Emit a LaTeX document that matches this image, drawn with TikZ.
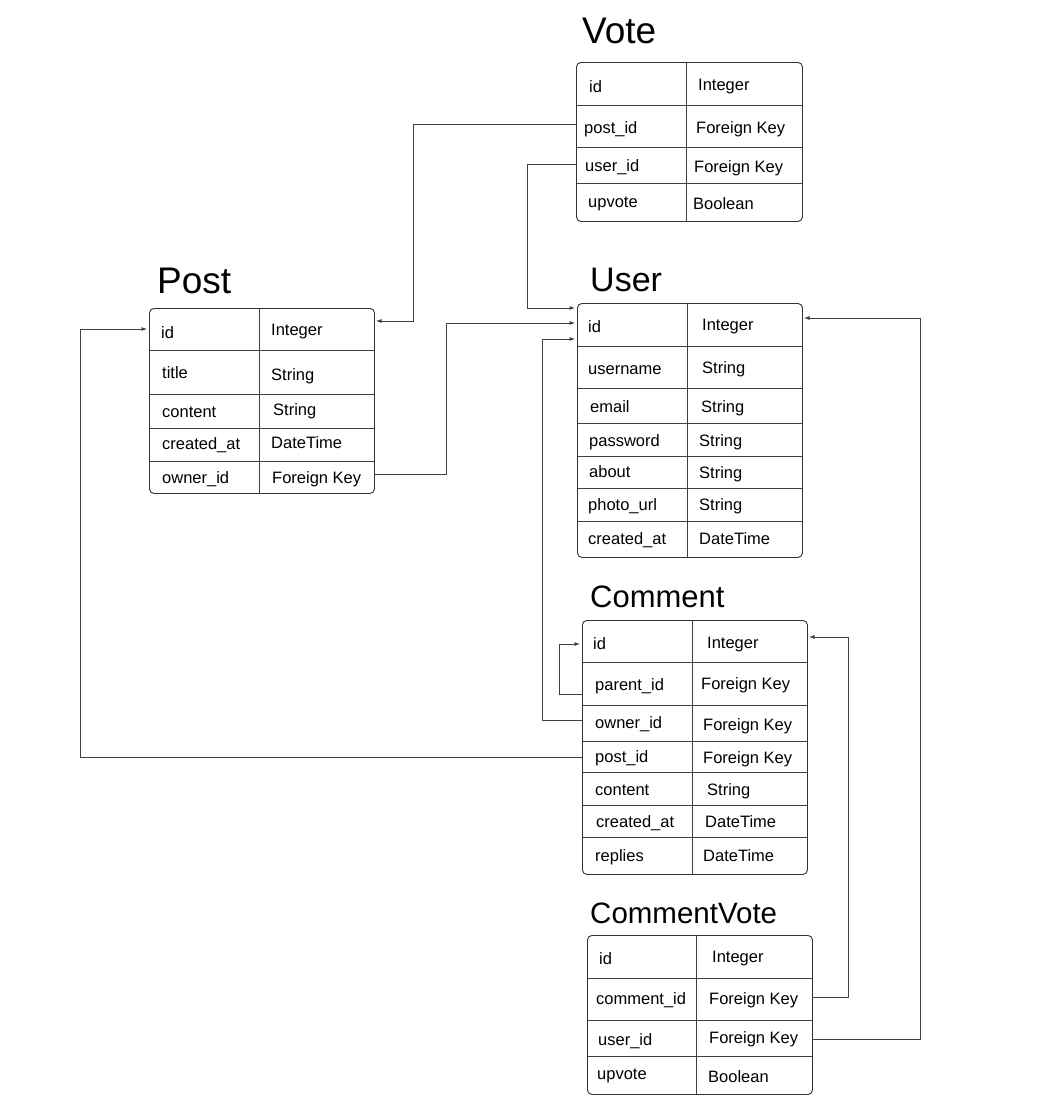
\documentclass[tikz,border=0pt]{standalone}
\usepackage{fontspec}
\setmainfont{Liberation Sans}
\usetikzlibrary{arrows.meta}
\begin{document}
\begin{tikzpicture}[x=1pt,y=-1pt,
  tbl/.style={draw=black!80, line width=0.9pt, rounded corners=4.5pt, inner sep=0pt, anchor=north west},
  sep/.style={draw=black!75, line width=0.8pt},
  cell/.style={anchor=base west, inner sep=0pt, font=\fontsize{16.5}{18}\selectfont},
  ttl/.style={anchor=base west, inner sep=0pt},
  conn/.style={draw=black!75, line width=0.8pt, -{Latex[length=5.5pt,width=4pt]}},
]
\useasboundingbox (0,0) rectangle (1055,1114);

% ---------------- Vote ----------------
\node[ttl, font=\fontsize{37}{40}\selectfont] (votet) at (582,43) {Vote};
\draw[sep] (576,105) -- (802,105) (576,147) -- (802,147) (576,183) -- (802,183);
\draw[sep] (686,62) -- (686,221);
\node[tbl, minimum width=226pt, minimum height=159pt] (vote) at (576,62) {};
\node[cell] (v1a) at (589,92) {id};        \node[cell] (v1b) at (698,90) {Integer};
\node[cell] (v2a) at (584,133) {post\_id}; \node[cell] (v2b) at (696,133) {Foreign Key};
\node[cell] (v3a) at (585,171) {user\_id}; \node[cell] (v3b) at (694,172) {Foreign Key};
\node[cell] (v4a) at (588,207) {upvote};   \node[cell] (v4b) at (693,209) {Boolean};

% ---------------- Post ----------------
\node[ttl, font=\fontsize{37}{40}\selectfont] (postt) at (157,293) {Post};
\draw[sep] (149,350) -- (374,350) (149,394) -- (374,394) (149,428) -- (374,428) (149,461) -- (374,461);
\draw[sep] (259,308) -- (259,493);
\node[tbl, minimum width=225pt, minimum height=185pt] (post) at (149,308) {};
\node[cell] (p1a) at (161,338) {id};         \node[cell] (p1b) at (271,335) {Integer};
\node[cell] (p2a) at (162,378) {title};      \node[cell] (p2b) at (271,380) {String};
\node[cell] (p3a) at (162,417) {content};    \node[cell] (p3b) at (273,415) {String};
\node[cell] (p4a) at (162,449) {created\_at};\node[cell] (p4b) at (271,448) {DateTime};
\node[cell] (p5a) at (162,483) {owner\_id};  \node[cell] (p5b) at (272,483) {Foreign Key};

% ---------------- User ----------------
\node[ttl, font=\fontsize{34}{38}\selectfont] (usert) at (590,291) {User};
\draw[sep] (577,346) -- (802,346) (577,388) -- (802,388) (577,423) -- (802,423)
           (577,456) -- (802,456) (577,488) -- (802,488) (577,521) -- (802,521);
\draw[sep] (687,303) -- (687,557);
\node[tbl, minimum width=225pt, minimum height=254pt] (user) at (577,303) {};
\node[cell] (u1a) at (588,332) {id};          \node[cell] (u1b) at (702,330) {Integer};
\node[cell] (u2a) at (588,374) {username};    \node[cell] (u2b) at (702,373) {String};
\node[cell] (u3a) at (590,412) {email};       \node[cell] (u3b) at (701,412) {String};
\node[cell] (u4a) at (589,446) {password};    \node[cell] (u4b) at (699,446) {String};
\node[cell] (u5a) at (589,477) {about};       \node[cell] (u5b) at (699,478) {String};
\node[cell] (u6a) at (588,510) {photo\_url};  \node[cell] (u6b) at (699,510) {String};
\node[cell] (u7a) at (588,544) {created\_at}; \node[cell] (u7b) at (699,544) {DateTime};

% ---------------- Comment ----------------
\node[ttl, font=\fontsize{31}{34}\selectfont] (commentt) at (590,607) {Comment};
\draw[sep] (582,662) -- (807,662) (582,705) -- (807,705) (582,741) -- (807,741)
           (582,772) -- (807,772) (582,805) -- (807,805) (582,837) -- (807,837);
\draw[sep] (692,620) -- (692,874);
\node[tbl, minimum width=225pt, minimum height=254pt] (comment) at (582,620) {};
\node[cell] (c1a) at (593,649) {id};          \node[cell] (c1b) at (707,648) {Integer};
\node[cell] (c2a) at (595,690) {parent\_id};  \node[cell] (c2b) at (701,689) {Foreign Key};
\node[cell] (c3a) at (595,728) {owner\_id};   \node[cell] (c3b) at (703,730) {Foreign Key};
\node[cell] (c4a) at (595,762) {post\_id};    \node[cell] (c4b) at (703,763) {Foreign Key};
\node[cell] (c5a) at (595,795) {content};     \node[cell] (c5b) at (707,795) {String};
\node[cell] (c6a) at (596,827) {created\_at}; \node[cell] (c6b) at (705,827) {DateTime};
\node[cell] (c7a) at (595,861) {replies};     \node[cell] (c7b) at (703,861) {DateTime};

% ---------------- CommentVote ----------------
\node[ttl, font=\fontsize{29.5}{32}\selectfont] (cvotet) at (590,923) {CommentVote};
\draw[sep] (587,978) -- (812,978) (587,1020) -- (812,1020) (587,1056) -- (812,1056);
\draw[sep] (696,935) -- (696,1094);
\node[tbl, minimum width=225pt, minimum height=159pt] (cvote) at (587,935) {};
\node[cell] (cv1a) at (599,964) {id};          \node[cell] (cv1b) at (712,962) {Integer};
\node[cell] (cv2a) at (596,1004) {comment\_id};\node[cell] (cv2b) at (709,1004) {Foreign Key};
\node[cell] (cv3a) at (598,1045) {user\_id};   \node[cell] (cv3b) at (709,1043) {Foreign Key};
\node[cell] (cv4a) at (597,1079) {upvote};     \node[cell] (cv4b) at (708,1082) {Boolean};

% ---------------- connector end points ----------------
\coordinate (vpost)  at (576,124);
\coordinate (vuser)  at (576,164);
\coordinate (powner) at (374,474);
\coordinate (cparent) at (582,694);
\coordinate (cowner) at (582,720);
\coordinate (cpost)  at (582,757);
\coordinate (cvcom)  at (812,997);
\coordinate (cvuser) at (812,1039);
\coordinate (pidR)   at (376,321);
\coordinate (pidL)   at (147,329);
\coordinate (uidA)   at (575,308);
\coordinate (uidB)   at (575,323);
\coordinate (uidC)   at (575,339);
\coordinate (uidR)   at (804,318);
\coordinate (cidL)   at (580,644);
\coordinate (cidR)   at (809,637);

% ---------------- connectors ----------------
\draw[conn] (vpost)   -- ++(-163,0) |- (pidR);
\draw[conn] (vuser)   -- ++(-49,0)  |- (uidA);
\draw[conn] (powner)  -- ++(72,0)   |- (uidB);
\draw[conn] (cowner)  -- ++(-40,0)  |- (uidC);
\draw[conn] (cparent) -- ++(-23,0)  |- (cidL);
\draw[conn] (cpost)   -- ++(-502,0) |- (pidL);
\draw[conn] (cvcom)   -- ++(36,0)   |- (cidR);
\draw[conn] (cvuser)  -- ++(108,0)  |- (uidR);
\end{tikzpicture}
\end{document}
